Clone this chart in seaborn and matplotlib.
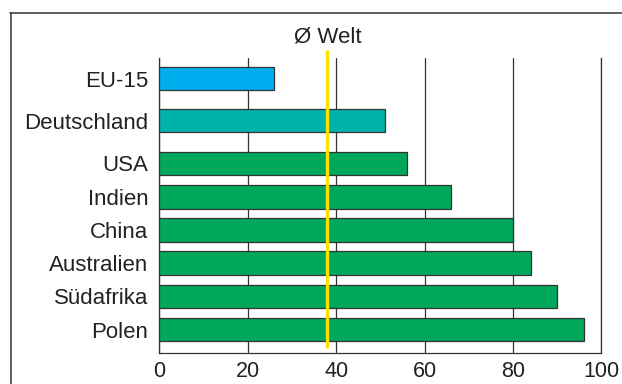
import matplotlib
matplotlib.use("Agg")
import matplotlib.pyplot as plt
from matplotlib.lines import Line2D
import seaborn as sns
import pandas as pd

# Data
regions = ["EU-15", "Deutschland", "USA", "Indien", "China", "Australien", "Südafrika", "Polen"]
values = [26, 51, 56, 66, 80, 84, 90, 96]
world_avg = 38
world_label = "Ø Welt"
x_ticks = [0, 20, 40, 60, 80, 100]
colors = ["#00AEEF", "#00B3AA"] + ["#00A85C"] * 6

# Row slots (top to bottom); the two headline rows sit a little apart
slots = [0, 1.26, 2.54, 3.56, 4.55, 5.54, 6.54, 7.54]

sns.set_style("white")
plt.rcParams["font.family"] = ["Liberation Sans", "DejaVu Sans"]

df = pd.DataFrame({"region": regions, "value": values, "slot": slots})

fig = plt.figure(figsize=(6.22, 3.84), dpi=100)
ax = fig.add_axes([0.2564, 0.0807, 0.967 - 0.2564, 0.849 - 0.0807])

sns.barplot(data=df, x="value", y="slot", hue="region", palette=colors,
            saturation=1, orient="h", native_scale=True, width=0.71,
            legend=False, edgecolor="#333333", linewidth=0.9, ax=ax, zorder=3)

ax.set_xlim(0, 100)
ax.set_ylim(8.24, -0.62)
ax.set_xticks(x_ticks)
ax.set_xticklabels([str(t) for t in x_ticks], fontsize=15.5, color="#222222")
ax.set_yticks(slots)
ax.set_yticklabels(regions, fontsize=16, color="#222222")
ax.tick_params(axis="x", length=0, pad=6)
ax.tick_params(axis="y", length=0, pad=8)
ax.set_xlabel("")
ax.set_ylabel("")

ax.xaxis.grid(True, color="#333333", linewidth=0.9, zorder=0)
ax.yaxis.grid(False)
ax.set_axisbelow(True)
for side in ["left", "right", "bottom"]:
    ax.spines[side].set_visible(True)
    ax.spines[side].set_color("#333333")
    ax.spines[side].set_linewidth(0.9)
ax.spines["top"].set_visible(False)

# World average marker
ax.plot([world_avg, world_avg], [-0.86, 8.09], color="#FFE000",
        linewidth=2.4, zorder=5, clip_on=False, solid_capstyle="butt")
ax.text(world_avg, -1.25, world_label, ha="center", va="center",
        fontsize=16, color="#222222", clip_on=False)

# Outer frame (top and left edges)
fig.add_artist(Line2D([10 / 622, 1.0], [1 - 12.5 / 384, 1 - 12.5 / 384],
                      color="#333333", linewidth=1.1))
fig.add_artist(Line2D([10.5 / 622, 10.5 / 622], [0.0, 1 - 12.5 / 384],
                      color="#333333", linewidth=1.1))

fig.savefig("out.png", dpi=100)
